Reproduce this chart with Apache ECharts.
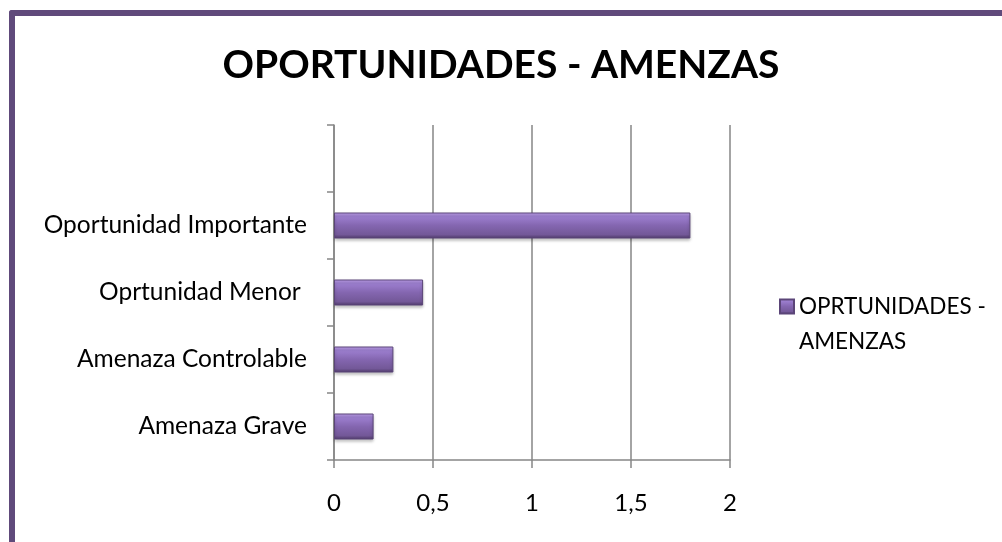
<!DOCTYPE html>
<html>
<head>
<meta charset="utf-8">
<script src="https://cdn.jsdelivr.net/npm/echarts@6/dist/echarts.min.js"></script>
<style>
    html, body { margin: 0; padding: 0; background: #fff; }
    #frame {
        position: absolute; left: 9px; top: 10px; width: 1200px; height: 700px;
        border-top: 6px solid #604A7B; border-left: 6px solid #604A7B;
        border-top-left-radius: 3px;
    }
    #chart { position: absolute; left: 0; top: 0; width: 1002px; height: 542px; }
</style>
</head>
<body>
<div id="frame"></div>
<div id="chart"></div>
<script>
    // datos del grafico
    var categorias = ['Amenaza Grave', 'Amenaza Controlable', 'Oprtunidad Menor ', 'Oportunidad Importante', ''];
    var valores = [0.2, 0.3, 0.45, 1.8, '-'];
    var nombreSerie = 'OPRTUNIDADES - AMENZAS';
    var titulo = 'OPORTUNIDADES - AMENZAS';

    var chart = echarts.init(document.getElementById('chart'));
    var gris = '#868686';
    var fuente = 'Lato';

    var option = {
        animation: false,
        title: {
            text: titulo,
            left: 'center',
            top: 41,
            textStyle: { fontFamily: fuente, fontWeight: 'bold', fontSize: 39, color: '#000' }
        },
        legend: {
            left: 779,
            top: 254,
            padding: 0,
            itemWidth: 14,
            itemHeight: 14,
            icon: 'rect',
            // linea vacia arriba para que el icono quede junto a la primera linea
            formatter: function (n) { return '\n' + n.replace(' - ', ' -\n'); },
            textStyle: { fontFamily: fuente, fontSize: 22.5, color: '#000', lineHeight: 35 },
            data: [nombreSerie]
        },
        grid: { left: 334, right: 272, top: 125, bottom: 82, containLabel: false },
        xAxis: {
            type: 'value',
            min: 0, max: 2, interval: 0.5,
            axisLine: { show: true, lineStyle: { color: gris, width: 1.5 } },
            axisTick: { show: true, length: 8, lineStyle: { color: gris, width: 1.5 } },
            splitLine: { show: true, lineStyle: { color: gris, width: 1.5 } },
            axisLabel: {
                margin: 31, fontFamily: fuente, fontSize: 24, color: '#000',
                formatter: function (v) { return String(v).replace('.', ','); }
            }
        },
        yAxis: {
            type: 'category',
            data: categorias,
            axisLine: { show: true, lineStyle: { color: gris, width: 1.5 } },
            axisTick: { show: true, length: 7, lineStyle: { color: gris, width: 1.5 } },
            axisLabel: { margin: 27, fontFamily: fuente, fontSize: 24.5, color: '#000' }
        },
        series: [
            {
                name: nombreSerie,
                type: 'bar',
                barWidth: 26,
                data: valores,
                itemStyle: {
                    color: new echarts.graphic.LinearGradient(0, 0, 0, 1, [
                        { offset: 0, color: '#c3a6f0' },
                        { offset: 0.15, color: '#9d7fd0' },
                        { offset: 0.5, color: '#8466b0' },
                        { offset: 0.85, color: '#735898' },
                        { offset: 1, color: '#4e3a68' }
                    ]),
                    borderColor: '#5b4578',
                    borderWidth: 1,
                    shadowColor: 'rgba(0,0,0,0.25)',
                    shadowBlur: 3,
                    shadowOffsetY: 2
                }
            }
        ]
    };
    chart.setOption(option);
</script>
</body>
</html>
